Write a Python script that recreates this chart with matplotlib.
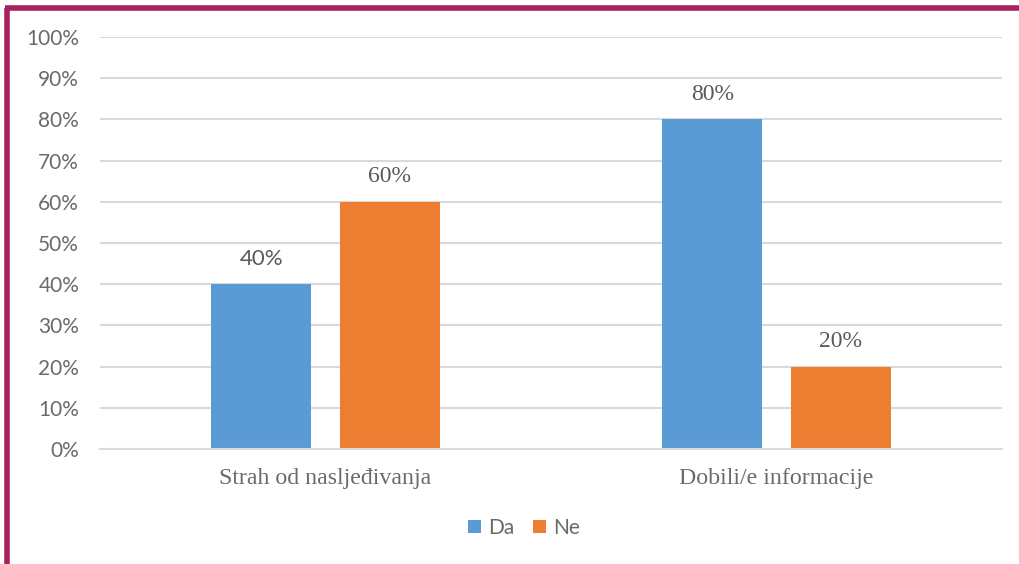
import matplotlib
matplotlib.use("Agg")
import matplotlib.pyplot as plt
from matplotlib.lines import Line2D
import numpy as np

categories = ["Strah od nasljeđivanja", "Dobili/e informacije"]
series_names = ["Da", "Ne"]
da_values = [40, 80]
ne_values = [60, 20]
y_ticks = [0, 10, 20, 30, 40, 50, 60, 70, 80, 90, 100]
y_tick_labels = [f"{v}%" for v in y_ticks]

blue = "#5B9BD5"
orange = "#ED7D31"
gray = "#595959"
tick_gray = "#6A6A6A"
grid = "#D9D9D9"
border = "#A8205E"

W, H = 1020, 564
fig = plt.figure(figsize=(W / 100, H / 100), dpi=100)
ax = fig.add_axes([100 / W, (H - 449) / H, (1002 - 100) / W, (449 - 37) / H])

x = np.arange(len(categories))
bw = 0.222
off = 0.1425
b1 = ax.bar(x - off, da_values, bw, color=blue, label=series_names[0], zorder=3)
b2 = ax.bar(x + off, ne_values, bw, color=orange, label=series_names[1], zorder=3)

ax.set_xlim(-0.5, 1.5)
ax.set_ylim(0, 100)
ax.set_yticks(y_ticks)
ax.set_yticklabels(y_tick_labels, fontsize=15, color=tick_gray, family=["Lato", "DejaVu Sans"])
ax.set_xticks(x)
ax.set_xticklabels(categories, fontsize=17.2, color=tick_gray, family=["Liberation Serif"])
ax.tick_params(axis="y", length=0, pad=15)
ax.tick_params(axis="x", length=0, pad=14)
ax.yaxis.grid(True, color=grid, linewidth=1.5, zorder=0)
for s in ["top", "right", "left"]:
    ax.spines[s].set_visible(False)
ax.spines["bottom"].set_color(grid)
ax.spines["bottom"].set_linewidth(1.5)
ax.spines["bottom"].set_zorder(4)

# data labels
for i, bar in enumerate(b1):
    fam = ["Lato"] if i == 0 else ["Liberation Serif"]
    fs = 16 if i == 0 else 17
    ax.annotate(f"{da_values[i]}%", (bar.get_x() + bar.get_width() / 2, bar.get_height()),
                xytext=(0, 18), textcoords="offset points", ha="center", va="center",
                fontsize=fs, color=gray, family=fam)
for i, bar in enumerate(b2):
    ax.annotate(f"{ne_values[i]}%", (bar.get_x() + bar.get_width() / 2, bar.get_height()),
                xytext=(0, 18), textcoords="offset points", ha="center", va="center",
                fontsize=17, color=gray, family=["Liberation Serif"])

leg = fig.legend(handles=[b1, b2], labels=series_names, loc="center",
                 bbox_to_anchor=(524 / W, (H - 528) / H), ncol=2, frameon=False,
                 prop={"family": "Lato", "size": 15}, handlelength=0.6, handleheight=0.6,
                 handletextpad=0.35, columnspacing=0.9)
for t in leg.get_texts():
    t.set_color(tick_gray)

# frame border (top and left)
fig.add_artist(Line2D([7.5 / W, 7.5 / W], [0, (H - 7.5) / H], color=border, linewidth=4,
                      transform=fig.transFigure, solid_capstyle="butt"))
fig.add_artist(Line2D([5.5 / W, 1], [(H - 7.5) / H, (H - 7.5) / H], color=border, linewidth=4,
                      transform=fig.transFigure, solid_capstyle="butt"))

fig.savefig("out.png", dpi=100, facecolor="white")
